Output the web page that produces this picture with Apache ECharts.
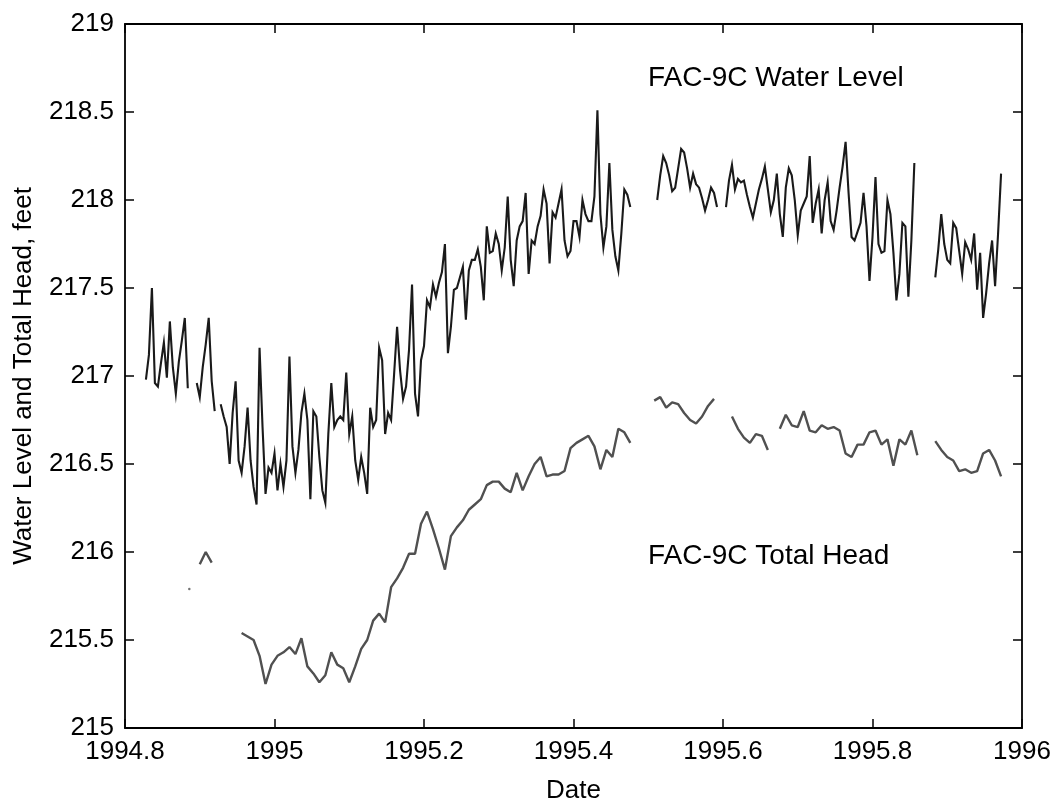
<!DOCTYPE html>
<html>
<head>
<meta charset="utf-8">
<script src="https://cdn.jsdelivr.net/npm/echarts@6/dist/echarts.min.js"></script>
<style>
  html, body { margin: 0; padding: 0; background: #ffffff; }
  #chart { width: 1058px; height: 803px; }
</style>
</head>
<body>
<div id="chart"></div>
<script>
// FAC-9C well record: readings on a regular time grid (decimal years), null = no record.
const waterStart = 1994.828;
const waterStep = 0.004;
const waterLevel = [
  216.98, 217.12, 217.50, 216.96, 216.94, 217.07, 217.19, 216.99, 217.31, 217.05,
  216.90, 217.08, 217.20, 217.33, 216.93, null, null, 216.96, 216.88, 217.05,
  217.18, 217.33, 216.97, 216.80, null, 216.84, 216.77, 216.71, 216.50, 216.79,
  216.97, 216.52, 216.45, 216.60, 216.82, 216.52, 216.37, 216.27, 217.16, 216.71,
  216.33, 216.48, 216.45, 216.56, 216.35, 216.50, 216.37, 216.52, 217.11, 216.60,
  216.45, 216.58, 216.79, 216.90, 216.75, 216.30, 216.80, 216.77, 216.54, 216.35,
  216.28, 216.67, 216.96, 216.71, 216.75, 216.77, 216.75, 217.02, 216.67, 216.77,
  216.52, 216.41, 216.54, 216.45, 216.33, 216.82, 216.71, 216.75, 217.16, 217.09,
  216.67, 216.79, 216.75, 217.01, 217.28, 217.03, 216.87, 216.94, 217.15, 217.52,
  216.90, 216.77, 217.09, 217.17, 217.43, 217.39, 217.52, 217.45, 217.53, 217.59,
  217.75, 217.13, 217.28, 217.49, 217.50, 217.56, 217.62, 217.32, 217.60, 217.66,
  217.66, 217.72, 217.62, 217.43, 217.85, 217.70, 217.71, 217.81, 217.75, 217.60,
  217.73, 218.02, 217.66, 217.51, 217.77, 217.85, 217.88, 218.04, 217.58, 217.77,
  217.75, 217.85, 217.91, 218.06, 217.98, 217.64, 217.93, 217.90, 217.98, 218.06,
  217.77, 217.68, 217.71, 217.88, 217.88, 217.79, 218.00, 217.92, 217.88, 217.88,
  218.02, 218.51, 217.92, 217.73, 217.85, 218.21, 217.83, 217.68, 217.60, 217.81,
  218.06, 218.03, 217.96, null, null, null, null, null, null, null,
  null, 218.00, 218.14, 218.25, 218.21, 218.14, 218.05, 218.07, 218.18, 218.29,
  218.27, 218.18, 218.07, 218.15, 218.09, 218.07, 218.01, 217.94, 218.00, 218.07,
  218.04, 217.96, null, null, 217.96, 218.11, 218.20, 218.06, 218.12, 218.10,
  218.11, 218.03, 217.96, 217.90, 217.98, 218.06, 218.12, 218.19, 218.06, 217.93,
  218.00, 218.15, 217.92, 217.79, 218.07, 218.18, 218.14, 218.00, 217.80, 217.94,
  217.98, 218.02, 218.25, 217.87, 217.98, 218.06, 217.81, 218.00, 218.10, 217.88,
  217.83, 217.94, 218.07, 218.19, 218.33, 218.04, 217.79, 217.77, 217.82, 217.87,
  218.04, 217.85, 217.54, 217.79, 218.13, 217.75, 217.70, 217.71, 218.00, 217.92,
  217.70, 217.43, 217.58, 217.87, 217.85, 217.45, 217.77, 218.21, null, null,
  null, null, null, null, 217.56, 217.72, 217.92, 217.75, 217.66, 217.64,
  217.87, 217.84, 217.71, 217.58, 217.76, 217.72, 217.66, 217.81, 217.49, 217.70,
  217.33, 217.47, 217.64, 217.77, 217.51, 217.81, 218.15
];

const headStart = 1994.884;
const headStep = 0.008;
const totalHead = [
  null, null, 215.93, 216.00, 215.94, null, null, null, null, 215.54,
  215.52, 215.50, 215.41, 215.25, 215.36, 215.41, 215.43, 215.46, 215.42, 215.51,
  215.35, 215.31, 215.26, 215.30, 215.43, 215.36, 215.34, 215.26, 215.35, 215.45,
  215.50, 215.61, 215.65, 215.60, 215.80, 215.85, 215.91, 215.99, 215.99, 216.16,
  216.23, 216.13, 216.02, 215.90, 216.09, 216.14, 216.18, 216.24, 216.27, 216.30,
  216.38, 216.40, 216.40, 216.36, 216.34, 216.45, 216.35, 216.43, 216.50, 216.54,
  216.43, 216.44, 216.44, 216.46, 216.59, 216.62, 216.64, 216.66, 216.60, 216.47,
  216.58, 216.54, 216.70, 216.68, 216.62, null, null, null, 216.86, 216.88,
  216.82, 216.85, 216.84, 216.79, 216.75, 216.73, 216.77, 216.83, 216.87, null,
  null, 216.77, 216.70, 216.65, 216.62, 216.67, 216.66, 216.58, null, 216.70,
  216.78, 216.72, 216.71, 216.80, 216.69, 216.68, 216.72, 216.70, 216.71, 216.69,
  216.56, 216.54, 216.61, 216.61, 216.68, 216.69, 216.61, 216.64, 216.49, 216.64,
  216.61, 216.69, 216.55, null, null, 216.63, 216.58, 216.54, 216.52, 216.46,
  216.47, 216.45, 216.46, 216.56, 216.58, 216.52, 216.43
];
// lone total-head reading recorded before the first continuous run
const headIsolated = [[1994.886, 215.79]];

const xTicks = { min: 1994.8, max: 1996, interval: 0.2 };
const yTicks = { min: 215, max: 219, interval: 0.5 };

const toPairs = (start, step, vals) => vals.map((v, i) => [start + i * step, v]);

const FONT = 'Liberation Sans, Arial, Helvetica, sans-serif';
const axisCommon = {
  axisLine: { show: true, onZero: false, lineStyle: { color: '#000', width: 1.8 } },
  axisTick: { show: true, inside: true, length: 9, lineStyle: { color: '#000', width: 1.5 } },
  splitLine: { show: false }
};

const chart = echarts.init(document.getElementById('chart'), null, { renderer: 'canvas' });
chart.setOption({
  animation: false,
  backgroundColor: '#ffffff',
  grid: { left: 125, right: 36, top: 24, bottom: 75, containLabel: false, outerBoundsMode: 'none' },
  xAxis: [
    Object.assign({
      type: 'value', position: 'bottom',
      min: xTicks.min, max: xTicks.max, interval: xTicks.interval,
      name: 'Date', nameLocation: 'middle', nameGap: 50,
      nameTextStyle: { fontFamily: FONT, fontSize: 26, color: '#000' },
      axisLabel: {
        margin: 11, fontFamily: FONT, fontSize: 26, color: '#000',
        formatter: v => String(Math.round(v * 10) / 10)
      }
    }, axisCommon),
    Object.assign({
      type: 'value', position: 'top',
      min: xTicks.min, max: xTicks.max, interval: xTicks.interval,
      axisLabel: { show: false }
    }, axisCommon)
  ],
  yAxis: [
    Object.assign({
      type: 'value', position: 'left',
      min: yTicks.min, max: yTicks.max, interval: yTicks.interval,
      name: 'Water Level and Total Head, feet', nameLocation: 'middle', nameGap: 88,
      nameRotate: 90,
      nameTextStyle: { fontFamily: FONT, fontSize: 26, color: '#000' },
      axisLabel: {
        margin: 11, fontFamily: FONT, fontSize: 26, color: '#000',
        formatter: v => String(Math.round(v * 10) / 10)
      }
    }, axisCommon),
    Object.assign({
      type: 'value', position: 'right',
      min: yTicks.min, max: yTicks.max, interval: yTicks.interval,
      axisLabel: { show: false }
    }, axisCommon)
  ],
  series: [
    {
      name: 'FAC-9C Water Level', type: 'line',
      data: toPairs(waterStart, waterStep, waterLevel),
      showSymbol: false, connectNulls: false, sampling: null,
      lineStyle: { color: '#1a1a1a', width: 2.1, join: 'miter' },
      itemStyle: { color: '#1a1a1a' }
    },
    {
      name: 'FAC-9C Total Head', type: 'line',
      data: toPairs(headStart, headStep, totalHead),
      showSymbol: false, connectNulls: false,
      lineStyle: { color: '#505050', width: 2.4 },
      itemStyle: { color: '#505050' }
    },
    {
      name: 'FAC-9C Total Head (single)', type: 'scatter',
      data: headIsolated, symbolSize: 2.5,
      itemStyle: { color: '#505050' }
    }
  ],
  graphic: [
    { type: 'text', left: 648, top: 64,
      style: { text: 'FAC-9C Water Level', font: '28px ' + FONT, fill: '#000' } },
    { type: 'text', left: 648, top: 542,
      style: { text: 'FAC-9C Total Head', font: '28px ' + FONT, fill: '#000' } }
  ]
});
</script>
</body>
</html>
